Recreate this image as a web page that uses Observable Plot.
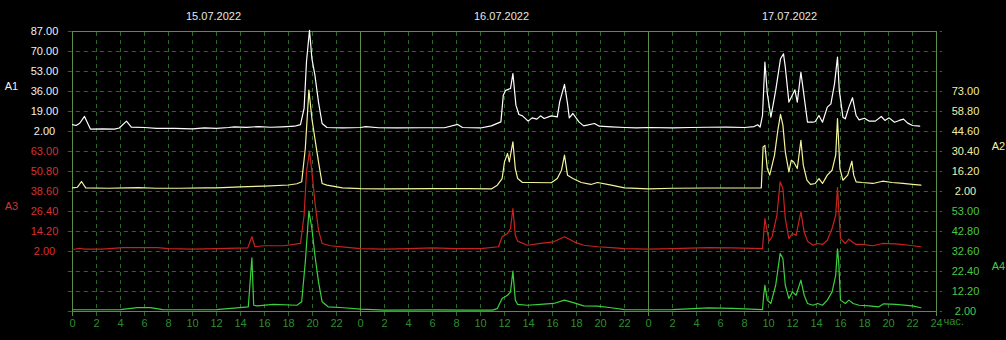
<!DOCTYPE html>
<html><head><meta charset="utf-8">
<script src="https://cdn.jsdelivr.net/npm/d3@7"></script>
<script src="https://cdn.jsdelivr.net/npm/@observablehq/plot@0.6"></script>
<style>
html,body{margin:0;padding:0;background:#000;}
#chart{width:1006px;height:340px;overflow:hidden;}
</style></head><body><div id="chart"></div><script>
// ---- data ----
const days = ["15.07.2022", "16.07.2022", "17.07.2022"];
const hourLabels = [0, 2, 4, 6, 8, 10, 12, 14, 16, 18, 20, 22];
const unitLabel = "час.";
const seriesNames = ["A1", "A2", "A3", "A4"];

const a1Ticks = [2, 19, 36, 53, 70, 87];
const a2Ticks = [2, 16.2, 30.4, 44.6, 58.8, 73];
const a3Ticks = [2, 14.2, 26.4, 38.6, 50.8, 63];
const a4Ticks = [2, 12.2, 22.4, 32.6, 42.8, 53];

const a1Time = [0,0.3,0.6,1.0,1.5,2.5,3.5,3.9,4.5,4.9,6.0,7.0,8.5,10.0,11.0,12.0,13.0,13.5,14.5,15.5,16.5,17.5,18.5,19.0,19.3,19.5,19.75,19.95,20.2,20.5,20.8,21.2,22.5,24,
  24.45,25.5,27,29,31,32.1,32.5,34.0,34.9,35.7,35.9,36.1,36.5,36.7,36.95,37.2,37.5,37.97,38.3,38.7,39.0,39.3,39.9,40.4,40.6,41.0,41.25,41.4,41.7,42.2,42.6,43.5,43.9,44.9,46,47,48,
  50,51.5,53,54.5,56,56.8,57.1,57.3,57.5,57.7,57.9,58.2,58.6,59.0,59.25,59.4,59.7,59.9,60.2,60.4,60.7,60.9,61.25,61.7,61.9,62.2,62.5,62.9,63.2,63.5,63.75,63.9,64.2,64.4,64.7,65.0,65.3,65.55,66.0,66.4,66.9,67.4,67.7,68.05,68.5,68.9,69.25,69.6,70.0,70.6];
const a1Value = [7.9,7.1,9,14.8,4.0,4.3,4.0,5.0,10.8,5.7,5.4,4.6,4.6,4.3,5.0,4.6,5.4,6.0,5.5,6.2,5.6,6.0,6.5,7.9,21.6,61.5,88,64,49.9,27,8.8,5.4,5.0,5.4,
  6.2,5.2,5.0,5.2,5.2,8.0,5.4,5.0,6.8,10.2,32.9,37,38.5,51.3,24.4,16.5,15.3,10.8,13.6,12.5,15.3,13.0,15.3,14.5,27.2,42,25.8,13.6,17.3,10.2,6.8,8.8,6.5,6.0,5.4,5.0,5.4,
  5.0,5.4,5.6,5.8,5.4,6.2,7.7,5.7,15.6,60.9,34.3,14.2,36.9,63.8,68,56.7,27,31.2,37.4,27,52.4,36.9,9.9,9.9,10.5,15.6,9.9,22.7,25.5,42.5,65.2,36.9,14.2,12.8,22.7,30.7,15.6,11.9,13.3,10.8,10.8,14.75,11.4,13.6,9.9,11.4,12.5,9.1,7.1,6.5];

const a2Time = [0,0.4,0.75,1.1,3,4.5,5.5,7,9,11,12,14,16,18,18.7,19.1,19.4,19.7,19.95,20.2,20.5,20.8,21.2,22.5,24,
  26,30,33,34.9,35.4,35.8,36.0,36.25,36.4,36.7,36.9,37.1,37.5,38.2,39.9,40.4,40.75,41.0,41.25,41.7,42.4,43.2,43.75,44.9,46,48,
  50,53,55,57.4,57.55,57.7,57.9,58.1,58.5,58.8,59.0,59.2,59.4,59.7,59.9,60.1,60.4,60.7,60.9,61.2,61.5,61.9,62.2,62.5,62.9,63.3,63.6,63.75,63.95,64.2,64.6,64.95,65.1,65.3,65.8,66.7,67.5,68.3,69.2,70.0,70.7];
const a2Value = [4.6,5.0,9.1,4.6,4.3,4.6,4.8,4.3,4.3,4.6,4.6,5.3,5.8,6.6,7.5,8.9,32.5,74,53.8,39.6,23,7.7,6.5,4.6,4.1,
  3.9,4.0,4.1,3.8,6.5,11.2,23,29,23,37.3,18.3,11.2,8.4,8.4,8.2,11.2,17.1,27.8,13.6,11.2,8.4,7.0,8.4,6.5,4.6,3.9,
  4.3,4.5,4.5,4.6,33.7,34.7,18.3,13.6,27.8,46.7,56.7,49.1,30.2,16,24.2,23,18.3,38.4,20.7,10,7,7.7,11.2,7.7,13.6,17.1,27.8,53.8,18.3,10,13.6,23.5,13.6,8.9,8.4,7.7,9.3,8.4,7.7,7.0,6.5];

const a3Time = [0,0.6,1.0,2.5,4.2,7.1,8,10,12,14.6,14.95,15.2,15.9,17.6,19.0,19.3,19.5,19.75,19.95,20.2,20.5,20.8,21.5,23.1,24,
  26,28,30,32,34,35.5,35.8,36.25,36.5,36.7,36.9,37.1,37.9,39.0,40.1,41.0,41.8,42.6,43.75,44.9,46,48,
  50,53,55,57.5,57.7,57.85,58.05,58.3,58.7,58.97,59.2,59.4,59.7,60.0,60.3,60.7,60.97,61.25,61.7,62.1,62.5,62.9,63.3,63.6,63.75,63.9,64.0,64.4,64.7,65.05,65.3,65.8,66.7,67.5,68.6,69.7,70.7];
const a3Value = [3.2,4.0,3.5,3.5,4.4,4.4,3.8,3.5,3.8,4.2,11,4.9,5.5,5.5,6.9,24.1,50.6,63.2,50.6,32.3,15,6.9,5.5,4.4,3.8,
  3.5,3.8,4.2,3.8,3.8,4.9,11,13,16,28.2,11.9,8.3,5.8,6.9,7.9,11,7.9,5.8,4.9,4.4,3.8,3.5,
  3.8,4.4,4.2,3.8,22.1,16,8.3,11,24.1,44.5,40.4,22.1,9.9,13,11.9,26.2,14,8.3,5.8,6.9,6.3,8.9,16,24.1,41.2,22,9.9,6.9,9.5,7.5,6.3,6.3,5.5,6.9,6.7,5.8,4.9];

const a4Time = [0,2,4,5.4,6.5,7.5,10,12,14.65,14.95,15.1,15.4,16.75,18.7,19.1,19.4,19.7,19.95,20.2,20.5,20.8,21.3,22.6,24,
  26,30,33,35.0,35.4,35.8,36.25,36.5,36.7,36.9,37.1,37.9,39.0,40.1,41.0,41.8,42.6,43.75,44.9,46,48,
  50,53,55,57.5,57.6,57.7,57.9,58.2,58.6,58.97,59.2,59.4,59.7,60.0,60.3,60.7,60.97,61.25,61.7,62.1,62.5,62.9,63.3,63.6,63.75,63.85,64.0,64.4,64.7,65.05,65.55,66.4,67.2,67.6,68.6,70.0,70.7];
const a4Value = [2.9,2.9,3.0,4.0,4.0,3.0,2.9,3.0,4.4,29.4,5.2,4.9,5.6,5.2,7,27.3,53.2,44.3,30.7,17.1,7,4.4,3.9,3.2,
  2.7,2.8,2.7,2.7,3.5,8.6,10.3,12,22.6,7.8,5.6,5.2,5.6,6.1,7.8,6.4,4.9,4.7,3.9,3.0,2.9,
  3.0,3.8,3.6,3.0,10.3,15.4,7.8,6.1,15.4,31.6,29,15.4,8.6,12,10.3,18,10.3,6.1,5.2,6.1,5.2,7.8,12,20.5,34,27.3,7.8,6.1,7.8,6.1,5.2,4.9,4.4,5.9,5.6,4.9,3.9];

// ---- layout / style ----
const bandOffset = [9, 6, 3, 0];           // gridline row where each series' lowest tick sits
const lineColors = ["#ffffff", "#f4f49c", "#c8221e", "#3cd03c"];
const labelColors = ["#f0f0f0", "#f0f0a4", "#d83030", "#48c848"];
const gridColor = "#2c6a2c";
const frameColor = "#5a8c46";
const xLabelColor = "#2e8e2e";

const tickSets = [a1Ticks, a2Ticks, a3Ticks, a4Ticks];
const times = [a1Time, a2Time, a3Time, a4Time];
const values = [a1Value, a2Value, a3Value, a4Value];

function pos(v, k) {
  const t = tickSets[k];
  return bandOffset[k] + (v - t[0]) / (t[1] - t[0]);
}
function unpos(p, k) {
  const t = tickSets[k];
  return t[0] + (p - bandOffset[k]) * (t[1] - t[0]);
}

const nDays = days.length;
const xMax = nDays * 24;
const xTicks = [];
days.forEach((d, i) => hourLabels.forEach(h => xTicks.push(i * 24 + h)));
xTicks.push(xMax);

const lineMarks = values.map((vals, k) =>
  Plot.line(vals.map((v, i) => ({h: times[k][i], v})), {
    x: "h", y: d => pos(d.v, k), stroke: lineColors[k], strokeWidth: 1.2, curve: "linear"
  })
);

const axisMarks = tickSets.map((t, k) => {
  const left = k % 2 === 0;
  return Plot.axisY(t.map(v => pos(v, k)), {
    anchor: left ? "left" : "right",
    tickSize: 0,
    tickPadding: left ? 28 : 29,
    textAnchor: "middle",
    tickFormat: p => unpos(p, k).toFixed(2),
    fill: labelColors[k],
    label: null
  });
});

const nameMarks = seriesNames.map((n, k) => {
  const left = k % 2 === 0;
  return Plot.text([n], {
    y: () => bandOffset[k] + 2.25,
    text: d => d,
    frameAnchor: left ? "left" : "right",
    dx: left ? -61 : 62,
    textAnchor: "middle",
    fill: labelColors[k]
  });
});

const chart = Plot.plot({
  width: 1006,
  height: 340,
  marginLeft: 72,
  marginRight: 70,
  marginTop: 31,
  marginBottom: 29,
  style: {background: "#000", color: "#e0e0e0", fontFamily: "'Liberation Sans', Arial, sans-serif", fontSize: "11px"},
  x: {domain: [0, xMax]},
  y: {domain: [0, 14]},
  marks: [
    Plot.ruleY(d3.range(0, 15), {x1: -0.35, x2: xMax + 0.5, stroke: gridColor, strokeDasharray: "4,4"}),
    Plot.ruleX(xTicks.filter(h => h % 24 !== 0), {y1: -0.25, y2: 14, stroke: gridColor, strokeDasharray: "4,4"}),
    Plot.ruleX(d3.range(0, xMax + 1, 24), {y1: -0.25, y2: 14, stroke: frameColor}),
    Plot.ruleY([0, 14], {x1: 0, x2: xMax, stroke: frameColor}),
    ...lineMarks,
    ...axisMarks,
    Plot.axisX(xTicks, {
      anchor: "bottom", tickSize: 0, tickPadding: 8,
      tickFormat: h => h === xMax ? "24" : String(h % 24),
      fill: xLabelColor, label: null
    }),
    Plot.text([{h: xMax, t: unitLabel}], {x: "h", text: "t", frameAnchor: "bottom", dy: 13, dx: 7, textAnchor: "start", fill: xLabelColor}),
    Plot.text(days, {x: (d, i) => i * 24 + 12, text: d => d, frameAnchor: "top", dy: -19, dx: -3, fill: "#e6e6e6"}),
    ...nameMarks
  ]
});
document.getElementById("chart").appendChild(chart);
</script></body></html>
